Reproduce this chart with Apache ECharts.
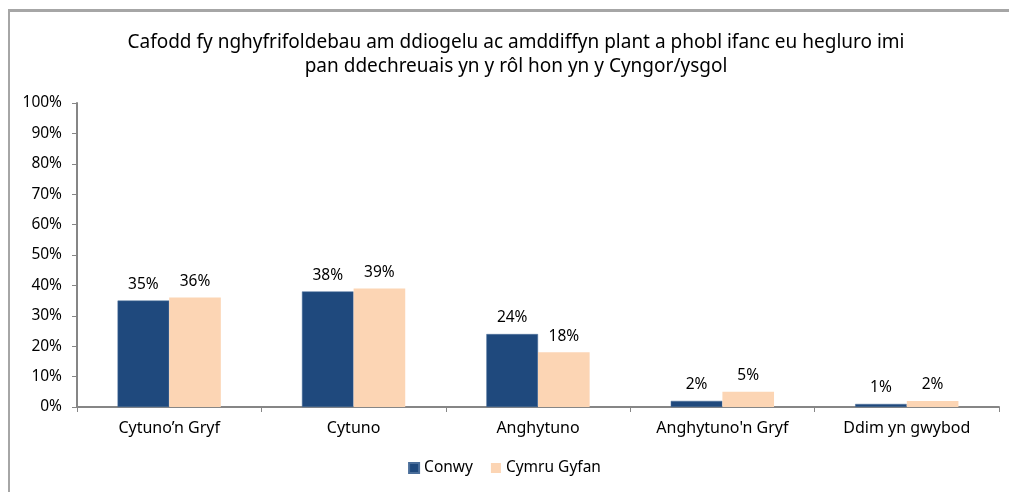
<!DOCTYPE html>
<html>
<head>
<meta charset="utf-8">
<script src="https://cdn.jsdelivr.net/npm/echarts@6/dist/echarts.min.js"></script>
<style>
  html, body { margin: 0; padding: 0; background: #fff; }
  #frame { position: absolute; left: 8px; top: 9px; width: 1010px; height: 500px;
           border-left: 2px solid #a6a6a6; border-top: 3px solid #a6a6a6; box-sizing: border-box; }
  #chart { position: absolute; left: 0; top: 0; width: 1009px; height: 492px; }
</style>
</head>
<body>
<div id="frame"></div>
<div id="chart"></div>
<script>
var categories = ["Cytuno\u2019n Gryf", "Cytuno", "Anghytuno", "Anghytuno'n Gryf", "Ddim yn gwybod"];
var conwy = [35, 38, 24, 2, 1];
var cymruGyfan = [36, 39, 18, 5, 2];
var titleText = "Cafodd fy nghyfrifoldebau am ddiogelu ac amddiffyn plant a phobl ifanc eu hegluro imi\npan ddechreuais yn y rôl hon yn y Cyngor/ysgol";

var fontName = "Noto Sans";
var chartDom = document.getElementById("chart");
var myChart = echarts.init(chartDom);
var option;

option = {
    animation: false,
    title: {
        text: titleText,
        left: 511,
        textAlign: 'center',
        top: 26,
        textStyle: {
            fontFamily: fontName,
            fontSize: 19,
            fontWeight: 'normal',
            color: '#000',
            lineHeight: 24
        }
    },
    legend: {
        data: ['Conwy', 'Cymru Gyfan'],
        left: 'center',
        bottom: 11,
        icon: 'rect',
        itemWidth: 10,
        itemHeight: 10,
        itemGap: 18,
        textStyle: { fontFamily: fontName, fontSize: 15.5, color: '#000' }
    },
    grid: {
        left: 77,
        right: 10,
        top: 103,
        bottom: 85
    },
    xAxis: {
        type: 'category',
        data: categories,
        axisLine: { lineStyle: { color: '#868686', width: 2 } },
        axisTick: { show: true, length: 5, lineStyle: { color: '#868686' } },
        axisLabel: { fontFamily: fontName, fontSize: 16, color: '#000', margin: 13 }
    },
    yAxis: {
        type: 'value',
        min: 0,
        max: 100,
        interval: 10,
        splitLine: { show: false },
        axisLine: { show: true, lineStyle: { color: '#868686', width: 2 } },
        axisTick: { show: true, length: 5, lineStyle: { color: '#868686' } },
        axisLabel: { fontFamily: fontName, fontSize: 15.5, color: '#000', formatter: '{value}%', margin: 15 }
    },
    series: [
        {
            name: 'Conwy',
            type: 'bar',
            data: conwy,
            barWidth: '28%',
            barGap: '0%',
            itemStyle: { color: '#1F497D', borderColor: '#4a6e9a', borderWidth: 0.5 },
            label: {
                show: true, position: 'top', distance: 8, formatter: '{c}%',
                fontFamily: fontName, fontSize: 15.5, color: '#000'
            }
        },
        {
            name: 'Cymru Gyfan',
            type: 'bar',
            data: cymruGyfan,
            barWidth: '28%',
            itemStyle: { color: '#FCD5B4' },
            label: {
                show: true, position: 'top', distance: 8, formatter: '{c}%',
                fontFamily: fontName, fontSize: 15.5, color: '#000'
            }
        }
    ]
};
option && myChart.setOption(option);
</script>
</body>
</html>
